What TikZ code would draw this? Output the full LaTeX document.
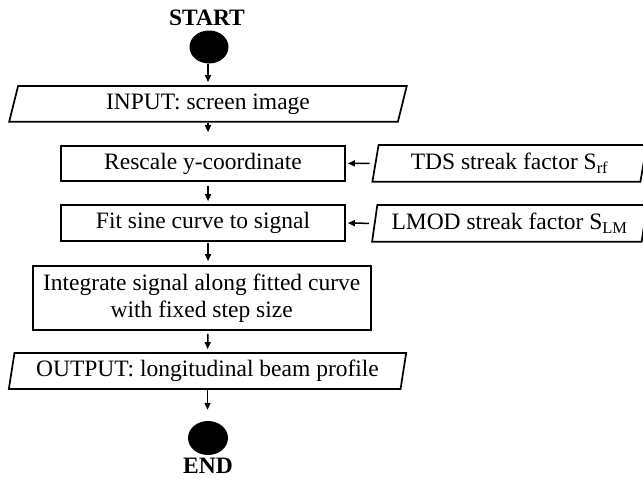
\documentclass[tikz,border=0pt]{standalone}
\usepackage{fontspec}
\setmainfont{Liberation Serif}
\usetikzlibrary{shapes.geometric}
\usetikzlibrary{arrows.meta}

\begin{document}
\begin{tikzpicture}[x=1pt,y=-1pt,
    font=\fontsize{23.5}{27}\selectfont,
    box/.style={draw,line width=1.7pt,rectangle,inner sep=0pt,align=center},
    io/.style={draw,line width=1.7pt,trapezium,trapezium left angle=77,
      trapezium right angle=103,trapezium stretches=true,inner sep=0pt},
    term/.style={ellipse,fill=black,inner sep=0pt,minimum width=39pt,minimum height=33pt},
    flow/.style={-{Triangle[length=7pt,width=6pt]},line width=1.5pt}]
  \useasboundingbox (0,0) rectangle (643,479);
  \node[font=\fontsize{23.5}{27}\selectfont\bfseries] (starttxt) at (207,18) {START};
  \node[term] (start) at (209,47) {};
  \node[io,minimum width=398pt,minimum height=35.7pt] (input) at (208,103.8) {INPUT: screen image};
  \node[box,minimum width=284pt,minimum height=34.7pt] (rescale) at (203,163.4) {Rescale y-coordinate};
  \node[box,minimum width=284pt,minimum height=36pt] (fitsine) at (203,223) {Fit sine curve to signal};
  \node[box,minimum width=338pt,minimum height=64pt] (integrate) at (201.7,298)
    {Integrate signal along fitted curve\\with fixed step size};
  \node[io,minimum width=399pt,minimum height=36pt] (output) at (207.5,371) {OUTPUT: longitudinal beam profile};
  \node[term,minimum width=40pt,minimum height=34pt] (finish) at (208,438) {};
  \node[font=\fontsize{23.5}{27}\selectfont\bfseries] (endtxt) at (208,466) {END};
  \node[io,minimum width=275pt,minimum height=36.7pt] (tds) at (509.5,163.4) {TDS streak factor S\textsubscript{rf}};
  \node[io,minimum width=275pt,minimum height=36.7pt] (lmod) at (509.5,223.4) {LMOD streak factor S\textsubscript{LM}};
  \draw[flow,shorten >=3pt] (start.south -| input.north) -- (input.north);
  \draw[flow,shorten >=13pt] (input.south) -- (input.south |- rescale.north);
  \draw[flow,shorten <=4pt,shorten >=3pt] (input.south |- rescale.south) -- (input.south |- fitsine.north);
  \draw[flow,shorten <=1pt,shorten >=4pt] (input.south |- fitsine.south) -- (input.south |- integrate.north);
  \draw[flow,shorten <=3pt,shorten >=3pt] (input.south |- integrate.south) -- (output.north);
  \draw[flow,shorten >=11pt] (output.south) -- (output.south |- finish.north);
  \draw[flow,shorten <=5pt,shorten >=2pt] (tds.west) -- (rescale.east);
  \draw[flow,shorten <=5pt,shorten >=2pt] (lmod.west) -- (fitsine.east);
\end{tikzpicture}
\end{document}
